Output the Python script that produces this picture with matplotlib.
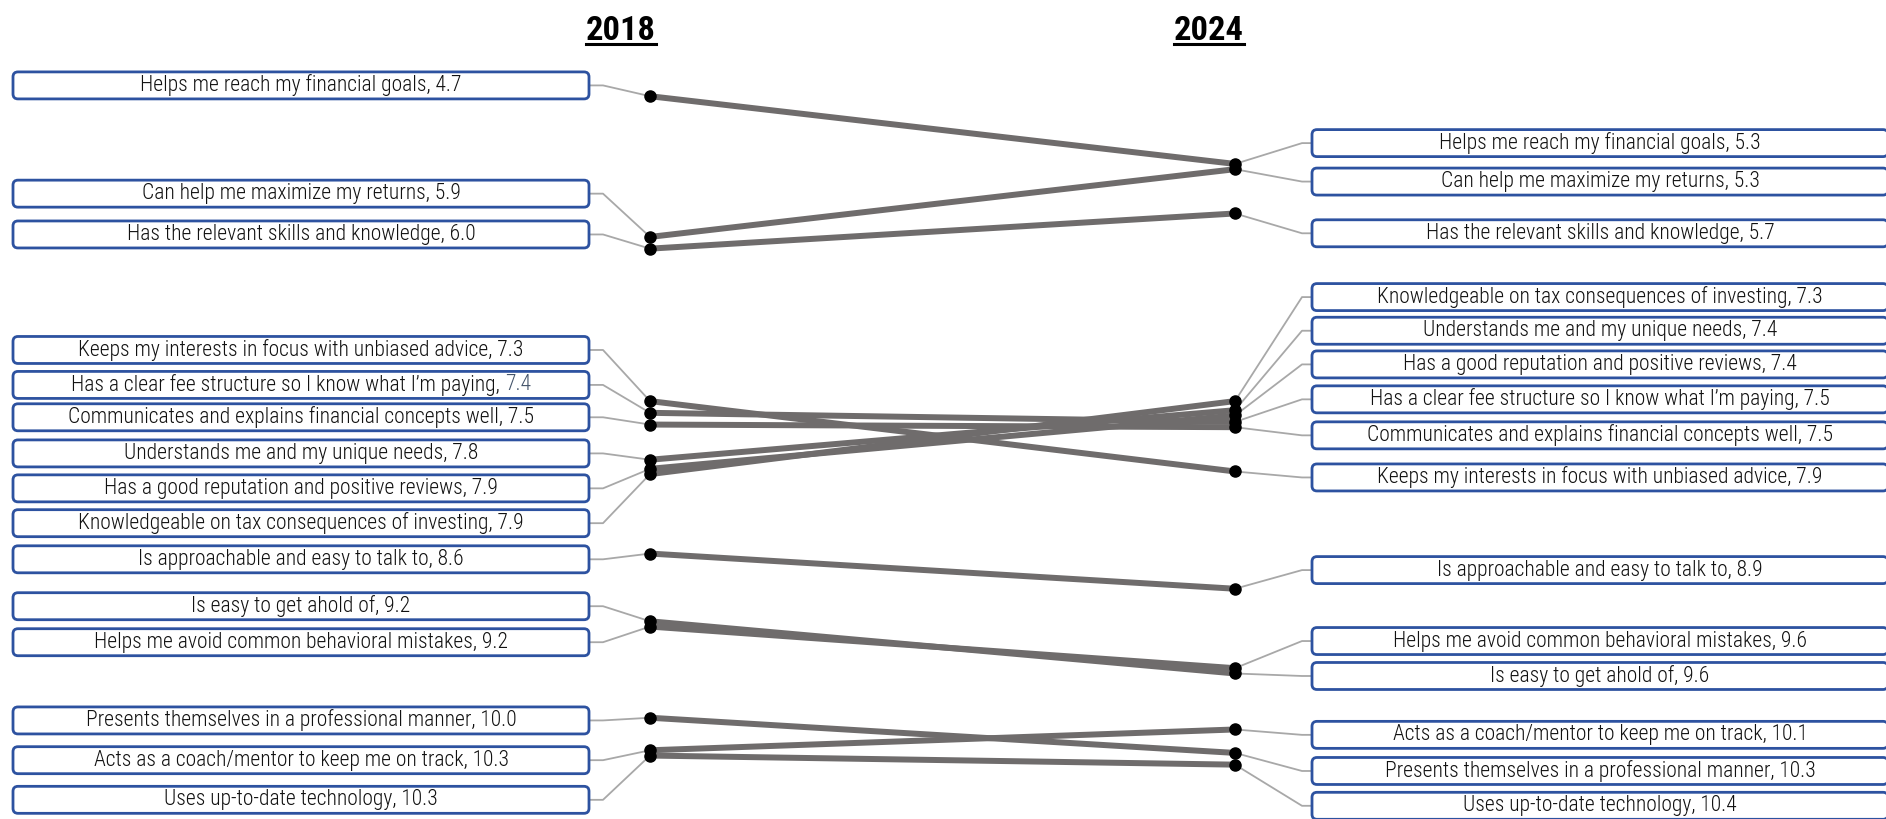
import matplotlib
matplotlib.use("Agg")
import matplotlib.pyplot as plt
from matplotlib import font_manager as fm
from matplotlib.patches import FancyBboxPatch
from matplotlib.lines import Line2D

# ---------------------------------------------------------------- data
years = ["2018", "2024"]
attributes = [
    "Helps me reach my financial goals",
    "Can help me maximize my returns",
    "Has the relevant skills and knowledge",
    "Keeps my interests in focus with unbiased advice",
    "Has a clear fee structure so I know what I\u2019m paying",
    "Communicates and explains financial concepts well",
    "Understands me and my unique needs",
    "Has a good reputation and positive reviews",
    "Knowledgeable on tax consequences of investing",
    "Is approachable and easy to talk to",
    "Is easy to get ahold of",
    "Helps me avoid common behavioral mistakes",
    "Presents themselves in a professional manner",
    "Acts as a coach/mentor to keep me on track",
    "Uses up-to-date technology",
]
rank_2018 = [4.7, 5.9, 6.0, 7.3, 7.4, 7.5, 7.8, 7.9, 7.9, 8.6, 9.2, 9.2, 10.0, 10.3, 10.3]
rank_2024 = [5.3, 5.3, 5.7, 7.9, 7.5, 7.5, 7.4, 7.4, 7.3, 8.9, 9.6, 9.6, 10.3, 10.1, 10.4]

# ---------------------------------------------------------------- layout
# label box centres (in rank units), one per attribute, after de-overlapping
left_label_y = [4.608, 5.531, 5.879, 6.864, 7.162, 7.438, 7.746, 8.044, 8.341,
                8.649, 9.049, 9.356, 10.023, 10.362, 10.700]
right_label_y = [5.100, 5.428, 5.869, 7.951, 7.285, 7.592, 6.700, 6.987, 6.413,
                 8.741, 9.644, 9.346, 10.454, 10.146, 10.751]

W, H, DPI = 1886, 819, 100
X0_PX, X1_PX = 650, 1235            # pixel columns of the two years
PX = 1.0 / (X1_PX - X0_PX)          # x units per pixel
Y_TOP, Y_BOTTOM = 3.8797, 10.8635   # rank values at top/bottom edge
PY = (Y_BOTTOM - Y_TOP) / H         # y units per pixel
TIE_GAP = 0.045

LINE_COLOR = "#6f6c6c"
LEADER_COLOR = "#a8a8a8"
BOX_EDGE = "#2d52a0"
VALUE_BLUE = "#44546a"


def pick_font():
    names = {f.name for f in fm.fontManager.ttflist}
    for name in ("Liberation Sans Narrow", "Noto Sans Condensed",
                 "Roboto Condensed", "DejaVu Sans Condensed"):
        if name in names:
            return dict(family=name)
    for f in fm.fontManager.ttflist:
        if f.name == "DejaVu Sans" and "condensed" in str(f.stretch):
            return dict(family="DejaVu Sans", stretch="condensed")
    return dict(family="DejaVu Sans")


FONT = pick_font()
LABEL_FONT = dict(FONT, weight="light")

fig = plt.figure(figsize=(W / DPI, H / DPI), dpi=DPI)
ax = fig.add_axes([0, 0, 1, 1])
ax.axis("off")
ax.set_xlim(-X0_PX * PX, (W - X0_PX) * PX)
ax.set_ylim(Y_BOTTOM, Y_TOP)

renderer = fig.canvas.get_renderer()


def text_width(s, size, **kw):
    t = fig.text(0, 0, s, fontsize=size, **kw)
    w = t.get_window_extent(renderer).width
    t.remove()
    return w


label_size = min(15.5, 14.0 * 470 / text_width(
    "Communicates and explains financial concepts well, 7.5", 14.0, **LABEL_FONT))
title_size = min(30.0, 24.0 * 70 / text_width("2018", 24.0, weight="bold", **FONT))


def dodge(values, slots):
    out = list(values)
    groups = {}
    for i, v in enumerate(values):
        groups.setdefault(v, []).append(i)
    for v, idx in groups.items():
        if len(idx) > 1:
            idx.sort(key=lambda i: slots[i])
            n = len(idx)
            for k, i in enumerate(idx):
                out[i] = v + (k - (n - 1) / 2) * TIE_GAP
    return out


y18 = dodge(rank_2018, left_label_y)
y24 = dodge(rank_2024, right_label_y)

# slope lines and dots
for a, b in zip(y18, y24):
    ax.plot([0, 1], [a, b], color=LINE_COLOR, lw=4.3, solid_capstyle="butt", zorder=2)
ax.plot([0] * len(y18), y18, "o", color="black", ms=8.0, zorder=3)
ax.plot([1] * len(y24), y24, "o", color="black", ms=8.0, zorder=3)

# label boxes
BOX_H = 27 * PY
BOX_W = 576 * PX
LEFT_BOX_X = (13 - X0_PX) * PX
RIGHT_BOX_X = (1312 - X0_PX) * PX
LEFT_ELBOW = (603 - X0_PX) * PX
RIGHT_ELBOW = (1302 - X0_PX) * PX
aspect = PY / PX


def draw_box(x, yc, parts):
    box = FancyBboxPatch((x, yc - BOX_H / 2), BOX_W, BOX_H,
                         boxstyle=f"round,pad=0,rounding_size={5 * PX}",
                         mutation_aspect=aspect, facecolor="white",
                         edgecolor=BOX_EDGE, lw=2.0, zorder=4)
    ax.add_patch(box)
    xc = x + BOX_W / 2
    full = "".join(p for p, _ in parts)
    total = text_width(full, label_size, **LABEL_FONT) * PX
    left = xc - total / 2
    if len(parts) == 1:
        ax.text(xc, yc, full, ha="center", va="center", fontsize=label_size,
                color="#111111", zorder=5, **LABEL_FONT)
    else:
        (p1, c1), (p2, c2) = parts
        ax.text(left, yc, p1, ha="left", va="center", fontsize=label_size,
                color=c1, zorder=5, **LABEL_FONT)
        ax.text(left + total, yc, p2, ha="right", va="center", fontsize=label_size,
                color=c2, zorder=5, **LABEL_FONT)


for i, name in enumerate(attributes):
    v18 = f"{rank_2018[i]:.1f}"
    v24 = f"{rank_2024[i]:.1f}"
    if i == 4:
        parts18 = [(f"{name}, ", "#111111"), (v18, VALUE_BLUE)]
    else:
        parts18 = [(f"{name}, {v18}", "#111111")]
    draw_box(LEFT_BOX_X, left_label_y[i], parts18)
    draw_box(RIGHT_BOX_X, right_label_y[i], [(f"{name}, {v24}", "#111111")])

    ax.plot([LEFT_BOX_X + BOX_W, LEFT_ELBOW, 0],
            [left_label_y[i], left_label_y[i], y18[i]],
            color=LEADER_COLOR, lw=1.3, zorder=1)
    ax.plot([1, RIGHT_ELBOW, RIGHT_BOX_X],
            [y24[i], right_label_y[i], right_label_y[i]],
            color=LEADER_COLOR, lw=1.3, zorder=1)

# column titles, underlined
for xpx, year in ((621, years[0]), (1209, years[1])):
    t = ax.text((xpx - X0_PX) * PX, Y_TOP + 40 * PY, year, ha="center", va="baseline",
                fontsize=title_size, weight="bold", color="black", **FONT)
    bb = t.get_window_extent(renderer)
    uy = (H - 44) / H
    fig.add_artist(Line2D([bb.x0 / W, bb.x1 / W], [uy, uy], transform=fig.transFigure,
                          color="black", lw=2.2))

fig.savefig("out.png", dpi=DPI, facecolor="white")
